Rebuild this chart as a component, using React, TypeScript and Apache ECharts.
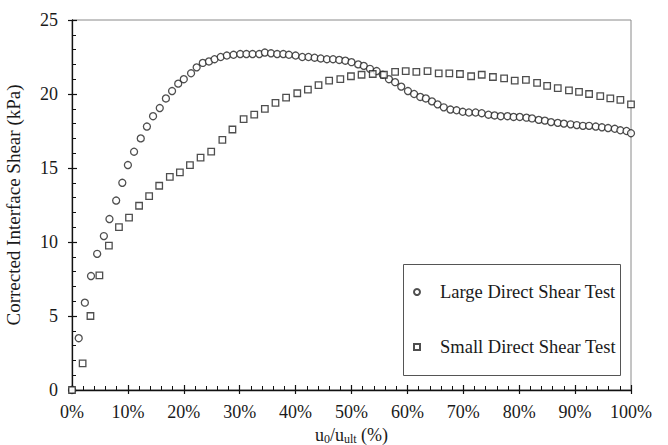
import React, { useEffect, useRef } from "react";
import * as echarts from "echarts";

const largeX = [0, 1.2, 2.3, 3.4, 4.5, 5.7, 6.7, 7.9, 9.0, 10.0, 11.1, 12.3, 13.4, 14.5, 15.7, 16.8, 17.9, 19.0, 20.0, 21.3, 22.3, 23.4, 24.5, 25.5, 26.6, 27.7, 28.9, 30.1, 31.2, 32.3, 33.5, 34.5, 35.6, 36.7, 37.8, 38.8, 40.0, 41.2, 42.3, 43.4, 44.5, 45.6, 46.7, 47.8, 48.9, 50.0, 51.2, 52.2, 53.3, 54.5, 55.6, 56.7, 57.8, 58.9, 60.1, 61.2, 62.3, 63.3, 64.4, 65.4, 66.5, 67.7, 68.8, 69.9, 71.0, 72.2, 73.3, 74.5, 75.6, 76.7, 77.9, 79.0, 80.1, 81.3, 82.3, 83.5, 84.6, 85.7, 86.9, 88.0, 89.2, 90.3, 91.4, 92.5, 93.7, 94.8, 95.9, 97.1, 98.1, 99.2, 100];
const largeY = [0, 3.5, 5.9, 7.7, 9.2, 10.4, 11.55, 12.8, 14.0, 15.2, 16.1, 17.0, 17.8, 18.5, 19.05, 19.7, 20.2, 20.7, 21.0, 21.4, 21.8, 22.1, 22.2, 22.35, 22.5, 22.6, 22.65, 22.7, 22.7, 22.7, 22.7, 22.8, 22.75, 22.7, 22.7, 22.65, 22.6, 22.5, 22.5, 22.45, 22.4, 22.35, 22.35, 22.3, 22.25, 22.15, 22.0, 21.9, 21.7, 21.55, 21.3, 21.0, 20.8, 20.5, 20.2, 20.0, 19.8, 19.7, 19.5, 19.3, 19.1, 18.95, 18.9, 18.8, 18.75, 18.75, 18.7, 18.6, 18.55, 18.5, 18.5, 18.45, 18.45, 18.4, 18.35, 18.25, 18.2, 18.1, 18.05, 18.0, 17.95, 17.9, 17.85, 17.85, 17.8, 17.75, 17.7, 17.65, 17.55, 17.5, 17.35];

const smallX = [0, 1.9, 3.3, 4.9, 6.6, 8.4, 10.2, 12.0, 13.8, 15.6, 17.5, 19.3, 21.1, 23.0, 24.9, 26.9, 28.7, 30.7, 32.6, 34.5, 36.4, 38.3, 40.3, 42.2, 44.1, 46.0, 48.0, 49.9, 51.8, 53.8, 55.8, 57.8, 59.7, 61.6, 63.6, 65.6, 67.5, 69.4, 71.4, 73.3, 75.3, 77.3, 79.2, 81.2, 83.2, 85.0, 86.9, 88.9, 90.7, 92.5, 94.5, 96.3, 98.1, 100];
const smallY = [0, 1.8, 5.0, 7.75, 9.75, 11.0, 11.65, 12.45, 13.1, 13.8, 14.4, 14.7, 15.2, 15.7, 16.1, 16.9, 17.6, 18.3, 18.6, 19.0, 19.4, 19.75, 20.05, 20.3, 20.6, 20.9, 21.0, 21.2, 21.3, 21.35, 21.3, 21.5, 21.55, 21.5, 21.55, 21.4, 21.4, 21.35, 21.2, 21.3, 21.15, 21.05, 20.9, 20.95, 20.75, 20.55, 20.4, 20.25, 20.15, 20.0, 19.85, 19.7, 19.6, 19.3];

const seriesNames = ["Large Direct Shear Test", "Small Direct Shear Test"];
const yAxisTitle = "Corrected Interface Shear (kPa)";

const FONT = "Liberation Serif";
const INK = "#1a1a1a";

export default function App() {
  const ref = useRef<HTMLDivElement>(null);
  useEffect(() => {
    if (!ref.current) return;
    const chart = echarts.init(ref.current, undefined, { renderer: "svg" });
    const baseX = {
      type: "value",
      min: 0,
      max: 100,
      interval: 10,
      gridIndex: 0,
      position: "bottom",
      splitLine: { show: false },
    };
    const baseY = {
      type: "value",
      min: 0,
      max: 25,
      interval: 5,
      gridIndex: 0,
      position: "left",
      splitLine: { show: false },
    };
    const markerStyle = { color: "#ffffff", borderColor: "#222", borderWidth: 1.3 };
    chart.setOption({
      animation: false,
      backgroundColor: "#ffffff",
      textStyle: { fontFamily: FONT, color: INK },
      grid: {
        left: 72,
        right: 37,
        top: 20,
        bottom: 55,
        outerBoundsMode: "none",
        containLabel: false,
        show: true,
        borderColor: "#8a8a8a",
        borderWidth: 1,
        backgroundColor: "transparent",
      },
      xAxis: [
        {
          ...baseX,
          axisLine: { show: true, lineStyle: { color: "#111", width: 1.3 } },
          axisTick: { show: true, inside: true, length: 5, lineStyle: { color: "#111", width: 1.2 } },
          minorTick: { show: true, splitNumber: 5, length: 4, lineStyle: { color: "#111", width: 1 } },
          axisLabel: { formatter: "{value}%", fontSize: 18, fontFamily: FONT, color: INK, margin: 13 },
          name: "{a|u}{s|0}{a|/u}{s|ult}{a| (%)}",
          nameLocation: "middle",
          nameGap: 29,
          nameTextStyle: {
            fontFamily: FONT,
            color: INK,
            rich: {
              a: { fontSize: 18, fontFamily: FONT, color: INK, lineHeight: 20, verticalAlign: "top" },
              s: { fontSize: 12, fontFamily: FONT, color: INK, lineHeight: 13, padding: [7, 0, 0, 0], verticalAlign: "top" },
            },
          },
        },
        {
          ...baseX,
          axisLine: { show: false },
          axisTick: { show: true, inside: false, length: 4, lineStyle: { color: "#111", width: 1.2 } },
          axisLabel: { show: false },
        },
      ],
      yAxis: [
        {
          ...baseY,
          axisLine: { show: true, lineStyle: { color: "#111", width: 1.3 } },
          axisTick: { show: true, inside: true, length: 5, lineStyle: { color: "#111", width: 1.2 } },
          minorTick: { show: true, splitNumber: 5, length: 4, lineStyle: { color: "#111", width: 1 } },
          axisLabel: { fontSize: 18, fontFamily: FONT, color: INK, margin: 14 },
          name: yAxisTitle,
          nameLocation: "middle",
          nameGap: 49,
          nameTextStyle: { fontSize: 19, fontFamily: FONT, color: INK },
        },
        {
          ...baseY,
          axisLine: { show: false },
          axisTick: { show: true, inside: false, length: 4, lineStyle: { color: "#111", width: 1.2 } },
          axisLabel: { show: false },
        },
      ],
      legend: {
        orient: "vertical",
        left: 413,
        top: 282,
        padding: 0,
        itemWidth: 6,
        itemHeight: 6,
        itemGap: 35,
        data: seriesNames,
        textStyle: { fontSize: 18.5, fontFamily: FONT, color: INK, lineHeight: 20, padding: [0, 0, 0, 15] },
      },
      graphic: [
        {
          type: "rect",
          shape: { x: 403.5, y: 264.5, width: 217, height: 111 },
          style: { fill: "none", stroke: "#555", lineWidth: 1 },
          z: 0,
          silent: true,
        },
      ],
      series: [
        {
          name: seriesNames[0],
          type: "scatter",
          xAxisIndex: 0,
          yAxisIndex: 0,
          symbol: "circle",
          symbolSize: 7,
          itemStyle: markerStyle,
          data: largeX.map((x, i) => [x, largeY[i]]),
          z: 3,
        },
        {
          name: seriesNames[1],
          type: "scatter",
          xAxisIndex: 0,
          yAxisIndex: 0,
          symbol: "rect",
          symbolSize: 6.5,
          itemStyle: markerStyle,
          data: smallX.map((x, i) => [x, smallY[i]]),
          z: 4,
        },
      ],
    });
    return () => chart.dispose();
  }, []);
  return (
    <div
      ref={ref}
      style={{ position: "fixed", left: 0, top: 0, width: 668, height: 445, background: "#fff" }}
    />
  );
}
